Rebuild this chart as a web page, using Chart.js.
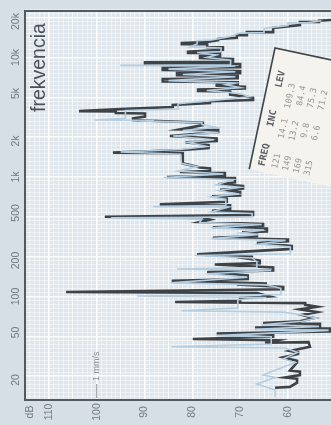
<!DOCTYPE html>
<html>
<head>
<meta charset="utf-8">
<script src="https://cdn.jsdelivr.net/npm/chart.js@4/dist/chart.umd.min.js"></script>
<style>
  html, body { margin: 0; padding: 0; background: #d6dfe5; }
  canvas { display: block; }
</style>
</head>
<body>
<canvas id="c" width="331" height="425"></canvas>
<script>
// Axis ticks
const levelTicks = [110, 100, 90, 80, 70, 60];
const freqTicks = [20, 50, 100, 200, 500, 1000, 2000, 5000, 10000, 20000];
const freqTickLabels = ['20', '50', '100', '200', '500', '1k', '2k', '5k', '10k', '20k'];

// Pen trace (dark): level in dB, frequency in Hz, from high to low frequency
const penLevel = [
  51.0, 53.5, 53.5, 57.5, 57.5, 63.1, 63.1, 68.6, 68.6, 70.7,
  70.7, 74.6, 74.6, 76.9, 82.2, 82.2, 76.9, 76.9, 73.6, 73.6,
  80.9, 80.9, 74.2, 74.2, 78.4, 78.4, 71.5, 71.5, 89.9, 89.9,
  70.0, 70.0, 86.2, 86.2, 70.0, 70.0, 83.2, 83.2, 70.5, 70.5,
  86.2, 86.2, 70.5, 70.5, 74.9, 74.9, 69.0, 69.0, 78.8, 78.8,
  72.1, 72.1, 67.3, 67.3, 76.3, 76.3, 84.1, 84.1, 95.1, 103.7,
  96.0, 96.0, 89.9, 89.9, 92.4, 92.4, 77.8, 77.8, 82.6, 74.6,
  74.6, 84.7, 74.9, 74.9, 81.4, 76.6, 76.6, 82.0, 96.6, 82.0,
  82.0, 78.4, 76.3, 76.3, 82.6, 73.2, 73.2, 85.3, 71.1, 71.1,
  74.6, 69.4, 69.4, 74.2, 70.0, 70.0, 75.9, 72.8, 72.8, 86.8,
  72.1, 72.1, 75.9, 67.3, 67.3, 98.3, 78.4, 76.3, 78.4, 65.2,
  65.2, 75.7, 64.4, 64.4, 69.6, 66.5, 66.5, 75.7, 60.0, 60.0,
  66.5, 59.2, 59.2, 79.0, 67.3, 69.4, 65.9, 65.9, 75.3, 63.1,
  63.1, 76.9, 68.4, 68.4, 84.3, 64.4, 70.7, 61.0, 61.0, 106.4,
  66.5, 63.8, 70.0, 70.0, 83.6, 56.4, 56.4, 53.9, 57.5, 53.9,
  57.1, 54.5, 57.5, 65.2, 53.3, 53.3, 66.9, 51.2, 51.2, 74.9,
  63.1, 63.1, 79.9, 62.3, 64.8, 55.7, 55.4, 59.6, 57.9, 57.9,
  61.0, 58.1, 58.1, 59.6, 57.5, 57.5, 60.6, 58.1, 58.1, 59.6,
  62.7
];
const penFreq = [
  20600, 20300, 19800, 19800, 18700, 17700, 16300, 16300, 15400, 15400,
  14600, 14300, 14000, 13500, 13200, 12900, 12900, 12200, 12200, 11600,
  11200, 10900, 10900, 10300, 10300, 9900, 9700, 9200, 9100, 8800,
  8800, 8300, 8200, 7850, 7700, 7400, 7400, 7100, 7000, 6700,
  6600, 6300, 6200, 6000, 6000, 5800, 5700, 5500, 5400, 5250,
  5200, 4900, 4600, 4400, 4300, 4160, 4000, 3850, 3700, 3560,
  3540, 3430, 3400, 3200, 3100, 3000, 2850, 2720, 2500, 2470,
  2380, 2200, 2100, 2000, 1950, 1850, 1750, 1680, 1600, 1580,
  1300, 1200, 1180, 1120, 1100, 1080, 1030, 1000, 980, 900,
  870, 840, 800, 780, 750, 700, 690, 670, 620, 590,
  580, 540, 520, 510, 480, 465, 455, 440, 420, 405,
  390, 380, 370, 350, 345, 340, 320, 310, 300, 290,
  280, 265, 250, 225, 215, 210, 200, 190, 185, 175,
  165, 160, 150, 140, 135, 128, 126, 120, 115, 109,
  107, 100, 97, 92, 90, 88, 85, 82, 78, 74,
  70, 66, 62, 60, 59, 56, 55, 54, 51, 49,
  48, 46, 44, 43, 41, 41.5, 38, 35, 34, 33,
  31, 29, 28, 24, 23.5, 22, 21, 20.5, 19, 17.5,
  17.2
];

// Second (light blue) trace: level in dB, frequency in Hz
const refLevel = [
  53.0, 56.0, 60.0, 60.0, 65.0, 65.0, 70.0, 72.0, 76.0, 79.0,
  79.0, 80.5, 74.0, 74.0, 79.0, 75.0, 77.0, 72.0, 72.0, 95.1,
  71.0, 85.0, 71.0, 82.0, 71.0, 85.0, 71.0, 73.0, 70.0, 77.0,
  70.0, 68.0, 75.0, 83.0, 83.0, 94.0, 94.0, 100.4, 88.0, 91.0,
  78.0, 78.0, 75.0, 82.0, 74.5, 84.0, 75.5, 81.0, 77.0, 82.5,
  95.0, 82.5, 82.3, 79.0, 83.0, 73.5, 86.0, 71.5, 75.0, 70.0,
  74.5, 70.5, 76.0, 73.0, 73.0, 88.2, 72.5, 76.0, 67.5, 67.5,
  97.0, 78.0, 78.5, 65.5, 76.0, 65.0, 70.0, 66.0, 76.0, 60.5,
  66.0, 59.5, 59.5, 79.5, 67.5, 66.5, 66.5, 83.2, 74.9, 63.5,
  77.0, 68.5, 84.5, 64.5, 61.5, 61.5, 91.6, 64.5, 70.5, 70.5,
  82.2, 61.0, 57.0, 54.0, 57.0, 65.5, 53.5, 67.0, 51.5, 75.0,
  63.5, 63.5, 84.3, 60.6, 58.0, 61.0, 58.5, 62.3, 65.2, 62.7,
  66.5, 62.7, 62.7
];
const refFreq = [
  20300, 19500, 19500, 18500, 17500, 16200, 16000, 15000, 14000, 13800,
  13000, 12300, 12000, 11200, 11000, 10500, 10000, 9500, 8700, 8600,
  8500, 8000, 7600, 7200, 6900, 6400, 6100, 5900, 5600, 5300,
  5000, 4700, 4400, 4100, 3700, 3600, 3100, 3000, 2980, 2950,
  2850, 2750, 2600, 2450, 2350, 2200, 2050, 1950, 1800, 1700,
  1620, 1550, 1300, 1220, 1120, 1060, 990, 950, 860, 820,
  770, 720, 680, 650, 580, 565, 560, 510, 495, 462,
  455, 445, 415, 400, 375, 360, 340, 330, 305, 295,
  275, 260, 228, 220, 210, 195, 175, 170, 168, 165,
  155, 145, 130, 125, 117, 104, 101, 98, 94, 80,
  76, 74, 70, 66, 62, 58, 56, 53, 52, 47,
  46, 40, 38, 37, 34, 30, 28, 24.5, 22, 21,
  18.5, 16.5, 14.5
];

// Readout card
const cardHeader = 'FREQ   INC    LEV';
const cardRows = ['121   14.1  109.3', '149   13.2   84.4', '169    9.8   75.3', '315    6.6   71.2'];

const toPoints = (lv, fr) => lv.map((v, i) => ({ x: v, y: fr[i] }));

// Chart-paper grid lines
const levelGrid = [];
for (let v = 51; v <= 115; v++) levelGrid.push(v);
const freqGrid = [];
for (let k = 34; k <= 132; k++) freqGrid.push(Math.pow(10, k / 30));

const paperPlugin = {
  id: 'paper',
  beforeDraw(chart) {
    const { ctx, chartArea: a } = chart;
    ctx.save();
    ctx.fillStyle = '#d6dfe5';
    ctx.fillRect(0, 0, chart.width, chart.height);
    ctx.fillStyle = '#e0e7ec';
    ctx.fillRect(a.left, a.top, a.right - a.left, a.bottom - a.top);
    ctx.restore();
  },
  afterDraw(chart) {
    const { ctx, chartArea: a, scales } = chart;
    const xs = scales.x, ys = scales.y;
    ctx.save();
    // frame
    ctx.strokeStyle = '#555a60';
    ctx.lineWidth = 2;
    ctx.beginPath();
    ctx.moveTo(chart.width, a.top);
    ctx.lineTo(a.left, a.top);
    ctx.lineTo(a.left, a.bottom);
    ctx.lineTo(chart.width, a.bottom);
    ctx.stroke();

    // rotated tick labels
    ctx.fillStyle = '#737a80';
    ctx.font = '10.5px "Liberation Sans", Arial, sans-serif';
    ctx.textAlign = 'center';
    ctx.textBaseline = 'middle';
    freqTicks.forEach((f, i) => {
      const y = ys.getPixelForValue(f);
      ctx.save();
      ctx.translate(16, y);
      ctx.rotate(-Math.PI / 2);
      ctx.fillText(freqTickLabels[i], 0, 0);
      ctx.restore();
    });
    levelTicks.forEach(v => {
      const x = xs.getPixelForValue(v);
      ctx.save();
      ctx.translate(x, 412);
      ctx.rotate(-Math.PI / 2);
      ctx.fillText(String(v), 0, 0);
      ctx.restore();
    });
    ctx.save();
    ctx.translate(30, 412);
    ctx.rotate(-Math.PI / 2);
    ctx.fillText('dB', 0, 0);
    ctx.restore();

    // axis caption
    ctx.save();
    ctx.fillStyle = '#4b5157';
    ctx.font = '19.5px "Liberation Sans", Arial, sans-serif';
    ctx.textAlign = 'left';
    ctx.textBaseline = 'alphabetic';
    ctx.translate(45, 112);
    ctx.rotate(-Math.PI / 2);
    ctx.fillText('frekvencia', 0, 0);
    ctx.restore();

    // scale note
    const x100 = xs.getPixelForValue(100);
    ctx.strokeStyle = '#8d949a';
    ctx.lineWidth = 1;
    ctx.beginPath();
    ctx.moveTo(x100, a.bottom - 2);
    ctx.lineTo(x100, a.bottom - 16);
    ctx.stroke();
    ctx.save();
    ctx.fillStyle = '#8d949a';
    ctx.font = '9px "Liberation Sans", Arial, sans-serif';
    ctx.textAlign = 'left';
    ctx.textBaseline = 'middle';
    ctx.translate(x100, a.bottom - 19);
    ctx.rotate(-Math.PI / 2);
    ctx.fillText('1 mm/s', 0, 0);
    ctx.restore();

    // readout card
    ctx.save();
    ctx.translate(275, 48);
    ctx.rotate(12 * Math.PI / 180);
    ctx.fillStyle = '#f4f3ee';
    ctx.fillRect(0, 0, 140, 124);
    ctx.strokeStyle = '#41464b';
    ctx.lineWidth = 1.6;
    ctx.beginPath();
    ctx.moveTo(140, 0);
    ctx.lineTo(0, 0);
    ctx.lineTo(0, 124);
    ctx.stroke();
    ctx.textAlign = 'left';
    ctx.textBaseline = 'middle';
    ctx.fillStyle = '#5a5f63';
    ctx.font = 'bold 9.5px "DejaVu Sans Mono", monospace';
    ctx.save();
    ctx.translate(12, 118);
    ctx.rotate(-Math.PI / 2);
    ctx.fillText(cardHeader, 0, 0);
    ctx.restore();
    ctx.fillStyle = '#94968f';
    ctx.font = '8.5px "DejaVu Sans Mono", monospace';
    cardRows.forEach((r, i) => {
      ctx.save();
      ctx.translate(25 + i * 11, 118);
      ctx.rotate(-Math.PI / 2);
      ctx.fillText(r, 0, 0);
      ctx.restore();
    });
    ctx.restore();

    ctx.restore();
  }
};

new Chart(document.getElementById('c'), {
  type: 'scatter',
  data: {
    datasets: [
      {
        data: toPoints(refLevel, refFreq),
        showLine: true,
        borderColor: '#b4cde0',
        borderWidth: 1.6,
        pointRadius: 0,
        tension: 0
      },
      {
        data: toPoints(penLevel, penFreq),
        showLine: true,
        borderColor: '#3e4348',
        borderWidth: 2.6,
        pointRadius: 0,
        tension: 0
      },
      {
        data: toPoints(penLevel, penFreq),
        showLine: true,
        borderColor: '#7b8288',
        borderWidth: 0.8,
        pointRadius: 0,
        tension: 0
      }
    ]
  },
  options: {
    responsive: false,
    animation: false,
    devicePixelRatio: 1,
    layout: { padding: { left: 25, top: 11, right: 0, bottom: 25 } },
    plugins: { legend: { display: false }, tooltip: { enabled: false } },
    scales: {
      x: {
        type: 'linear',
        reverse: true,
        min: 51,
        max: 115,
        afterBuildTicks: s => { s.ticks = levelGrid.map(v => ({ value: v })); },
        ticks: { display: false },
        border: { display: false },
        grid: {
          drawTicks: false,
          color: c => (c.tick && c.tick.value % 10 === 0) ? 'rgba(255,255,255,0.95)'
            : (c.tick && c.tick.value % 5 === 0) ? 'rgba(255,255,255,0.75)' : 'rgba(255,255,255,0.45)',
          lineWidth: c => (c.tick && c.tick.value % 10 === 0) ? 1.6 : 1
        }
      },
      y: {
        type: 'logarithmic',
        min: 13.6,
        max: 24500,
        afterBuildTicks: s => { s.ticks = freqGrid.map(v => ({ value: v })); },
        ticks: { display: false },
        border: { display: false },
        grid: {
          drawTicks: false,
          color: c => (c.index % 10 === 6) ? 'rgba(255,255,255,0.9)' : 'rgba(255,255,255,0.45)',
          lineWidth: c => (c.index % 10 === 6) ? 1.5 : 1
        }
      }
    }
  },
  plugins: [paperPlugin]
});
</script>
</body>
</html>
